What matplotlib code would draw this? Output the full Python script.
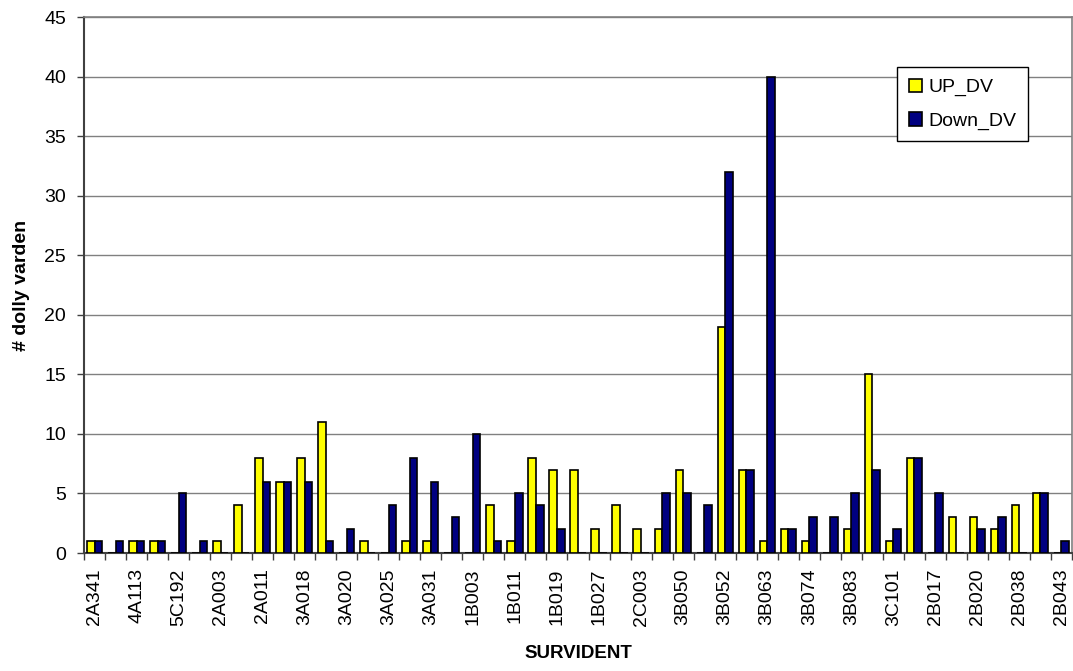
import numpy as np
import matplotlib
matplotlib.use("Agg")
from matplotlib import pyplot as plt

plt.rcParams['font.family'] = ['Liberation Sans', 'DejaVu Sans']

# Visible tick labels (every other category is labelled in the source chart)
shown_labels = ["2A341", "4A113", "5C192", "2A003", "2A011", "3A018",
                "3A020", "3A025", "3A031", "1B003", "1B011", "1B019",
                "1B027", "2C003", "3B050", "3B052", "3B063", "3B074",
                "3B083", "3C101", "2B017", "2B020", "2B038", "2B043"]

up_dv = [1, 0, 1, 1, 0, 0, 1, 4, 8, 6,
         8, 11, 0, 1, 0, 1, 1, 0, 0, 4,
         1, 8, 7, 7, 2, 4, 2, 2, 7, 0,
         19, 7, 1, 2, 1, 0, 2, 15, 1, 8,
         0, 3, 3, 2, 4, 5, 0]
down_dv = [1, 1, 1, 1, 5, 1, 0, 0, 6, 6,
           6, 1, 2, 0, 4, 8, 6, 3, 10, 1,
           5, 4, 2, 0, 0, 0, 0, 5, 5, 4,
           32, 7, 40, 2, 3, 3, 5, 7, 2, 8,
           5, 0, 2, 3, 0, 5, 1]

n = len(up_dv)
x = np.arange(n)
w = 0.36

fig = plt.figure(figsize=(10.73, 6.71), dpi=100)
ax = fig.add_axes([84 / 1073, 1 - 553 / 671, (1072 - 84) / 1073, (553 - 17) / 671])

ax.bar(x - w / 2, up_dv, w, color="#ffff00", edgecolor="black", linewidth=1.2,
       label="UP_DV", zorder=3)
ax.bar(x + w / 2, down_dv, w, color="#000080", edgecolor="black", linewidth=1.2,
       label="Down_DV", zorder=3)

ax.set_xlim(-0.5, n - 0.5)
ax.set_ylim(0, 45)
ax.set_yticks(np.arange(0, 46, 5))
ax.yaxis.grid(True, color="#808080", linewidth=1, zorder=0)

ax.set_xticks(x[::2])
ax.set_xticklabels(shown_labels, rotation=90)
ax.set_xticks(np.arange(-0.5, n, 1), minor=True)
ax.tick_params(axis="x", which="major", length=0, pad=11, labelsize=14)
ax.tick_params(axis="x", which="minor", length=5, width=1, color="#404040")
ax.tick_params(axis="y", length=5, width=1, color="#404040", labelsize=14,
               pad=8)

for side in ["top", "right"]:
    ax.spines[side].set_color("#808080")
    ax.spines[side].set_linewidth(1.2)
for side in ["left", "bottom"]:
    ax.spines[side].set_color("#404040")
    ax.spines[side].set_linewidth(1.5)

ax.set_xlabel("SURVIDENT", fontsize=13.5, fontweight="bold", labelpad=14)
ax.set_ylabel("# dolly varden", fontsize=14, fontweight="bold", labelpad=10)

leg = ax.legend(loc="upper left", bbox_to_anchor=(813 / 988, 1 - 50 / 536),
                fontsize=14, frameon=True, fancybox=False, framealpha=1,
                edgecolor="black", handlelength=0.7, handleheight=0.7,
                labelspacing=0.8, borderpad=0.6, handletextpad=0.3,
                borderaxespad=0)
leg.get_frame().set_linewidth(1)

fig.savefig("out.png", dpi=100)
